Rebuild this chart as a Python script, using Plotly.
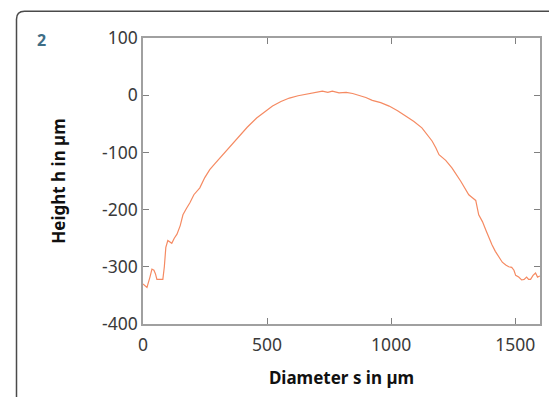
import plotly.graph_objects as go

# Profile (diameter s in µm, height h in µm)
diameter_um = [0, 16, 28, 36, 44, 50, 56, 68, 80, 86, 92, 100, 108, 116, 126, 137,
               150, 161, 175, 189, 205, 229, 249, 269, 289, 309, 323, 337, 362, 390,
               420, 458, 490, 522, 556, 590, 625, 659, 690, 723, 745, 763, 790, 819,
               845, 872, 898, 924, 958, 992, 1026, 1060, 1092, 1124, 1145, 1165, 1180,
               1193, 1220, 1245, 1280, 1313, 1330, 1341, 1353, 1368, 1382, 1394, 1406,
               1420, 1434, 1448, 1462, 1474, 1486, 1495, 1502, 1514, 1526, 1536, 1546,
               1554, 1562, 1572, 1582, 1590, 1600]
height_um = [-330, -336, -318, -304, -306, -312, -322, -322, -322, -300, -266, -254, -256,
             -259, -250, -243, -228, -209, -198, -188, -174, -162, -144, -130, -120, -110,
             -103, -97, -84, -70, -56, -40, -29, -19, -11, -5, -1, 2, 5, 7, 5, 7, 4, 5,
             3, 0, -4, -9, -13, -19, -27, -37, -46, -57, -68, -80, -92, -104, -114, -127,
             -150, -174, -180, -184, -209, -221, -236, -249, -261, -273, -283, -292, -297,
             -300, -301, -306, -315, -318, -323, -322, -318, -322, -322, -315, -311, -318,
             -316]

x_ticks = [0, 500, 1000, 1500]
x_ticktext = ["0", "500", "1000", "1500"]
y_ticks = [100, 0, -100, -200, -300, -400]
y_ticktext = ["100", "0", "-100", "-200", "-300", "-400"]

FONT = "Noto Sans"
OFF = 8  # page body margin offset

fig = go.Figure()
fig.add_trace(go.Scatter(
    x=diameter_um, y=height_um, mode="lines",
    line=dict(color="#f58a62", width=1.2, shape="linear"),
    showlegend=False, hoverinfo="skip",
))

axis_common = dict(
    showgrid=False, zeroline=False, showline=True, mirror="ticks",
    linecolor="#a0a0a0", linewidth=1.5, ticks="inside", ticklen=6,
    tickcolor="#808080", tickwidth=1,
    tickfont=dict(family=FONT, size=17.5, color="#3a3a3a"),
)

fig.update_xaxes(range=[0, 1600], tickvals=x_ticks, ticktext=x_ticktext, **axis_common,
                 ticklabelstandoff=4,
                 title=dict(text="<b>Diameter s in µm</b>",
                            font=dict(family=FONT, size=17, color="#111111"),
                            standoff=17))
fig.update_yaxes(range=[-400, 100], tickvals=y_ticks, ticktext=y_ticktext, **axis_common,
                 title=dict(text="<b>Height h in µm</b>",
                            font=dict(family=FONT, size=17, color="#111111"),
                            standoff=32))

# target pixel positions in the window
L, T, B, R = 143, 38, 328, 540
def px(x):
    return (x - L) / (R - L)
def py(y):
    return (B - y) / (B - T)
r = 8
cx, cy = 16.5, 11
path = (f"M {px(cx)} {py(420)} L {px(cx)} {py(cy + r)} "
        f"Q {px(cx)} {py(cy)} {px(cx + r)} {py(cy)} L {px(580)} {py(cy)}")
fig.add_shape(type="path", path=path, xref="paper", yref="paper",
              line=dict(color="#4a4a4a", width=1.5))

fig.add_annotation(text="<b>2</b>", x=px(42), y=py(40), xref="paper", yref="paper",
                   showarrow=False, font=dict(family=FONT, size=16, color="#3f6e86"),
                   xanchor="center", yanchor="middle")

W, H = 557 - OFF, 397 - OFF
fig.update_layout(
    width=W, height=H,
    margin=dict(l=L - OFF, r=557 - R, t=T - OFF, b=397 - B, pad=0),
    paper_bgcolor="white", plot_bgcolor="white",
)

fig.write_html("out.html")
